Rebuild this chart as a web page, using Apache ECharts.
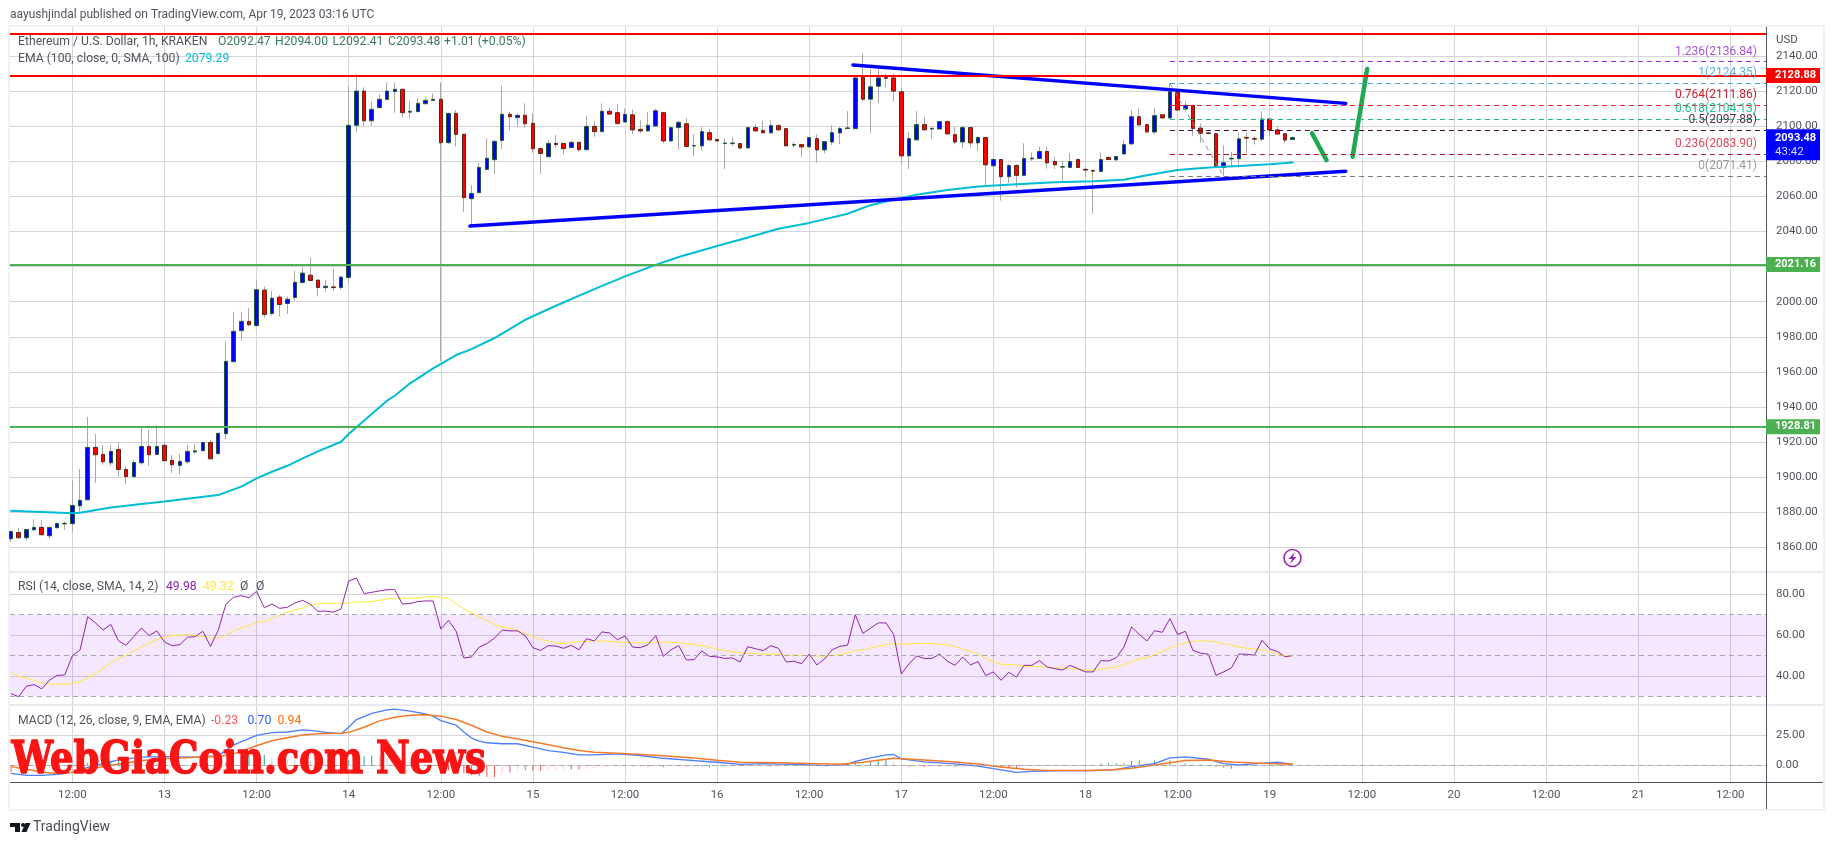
<!DOCTYPE html>
<html>
<head>
<meta charset="utf-8">
<style>
html, body { margin: 0; padding: 0; background: #fff; }
#main { width: 1834px; height: 845px; }
</style>
<script src="https://cdn.jsdelivr.net/npm/echarts@6/dist/echarts.min.js"></script>
</head>
<body>
<div id="main"></div>
<script>
// hour index 0 = Apr 12 04:00
const tickHours = [8,20,32,44,56,68,80,92,104,116,128,140,152,164,176,188,200,212,224]
const tickLabels = ['12:00','13','12:00','14','12:00','15','12:00','16','12:00','17','12:00','18','12:00','19','12:00','20','12:00','21','12:00']

const opens = [1864.9,1868.5,1865.5,1870,1871.4,1866.6,1871.2,1873.4,1873.5,1883.7,
  1887.1,1917,1913,1908.2,1915.8,1904.4,1900.3,1908.2,1917.5,1913,
  1918.1,1909.6,1906.7,1908.8,1914.4,1915.1,1919.8,1913.4,1924.8,1965.8,
  1983.5,1988.8,1986.4,2006.6,1993.3,2002.6,1999,2002.4,2010.9,2015.1,
  2012.3,2008,2008.4,2008.1,2013.8,2100.5,2120,2103.1,2110.6,2115.3,
  2119.7,2121,2108,2108.3,2112.8,2114.7,2115.3,2090.6,2107.3,2095.4,
  2058.7,2062.1,2075.4,2080.9,2091.9,2106.8,2104.9,2106.2,2101.6,2087.2,
  2082.6,2090.2,2090.2,2087.8,2090.8,2086.6,2099.9,2096.9,2108.5,2107.7,
  2102.4,2106.5,2098.2,2097.3,2100.1,2107.7,2091.6,2099.2,2101.4,2088.7,
  2088.8,2096.3,2092.4,2090.1,2090.1,2090.1,2087.6,2099.2,2097.5,2096.2,
  2100.3,2098.6,2089.2,2089.5,2088.2,2092.9,2086.5,2091,2096.2,2098.7,
  2098.6,2128.5,2115.4,2122.8,2127.7,2127.5,2119.6,2083.1,2092.2,2100.9,
  2098.4,2098.4,2102.6,2095.2,2091,2099.2,2090.5,2093.5,2077.4,2081,
  2071.2,2077.6,2072,2081.4,2081.6,2085.6,2079.9,2076.7,2076.5,2081,
  2075.4,2074.8,2074.2,2082.2,2080.8,2084.2,2089.9,2105.4,2100.9,2096.7,
  2106.5,2104.7,2119.4,2109.8,2111.9,2098.9,2096.2,2095.7,2076.4,2081.3,
  2081.5,2093.6,2093,2092.6,2104.1,2097.9,2095.7,2092.47]
const closes = [1869.1,1865.5,1870.2,1871.4,1867.2,1871.4,1873.6,1873.7,1883.9,1886.8,
  1917,1912.8,1908.8,1914.7,1904.4,1900.3,1908.4,1917.5,1912.8,1917.5,
  1909.4,1907.1,1909,1914.7,1915,1919.8,1910.5,1925,1966,1983.1,
  1988.8,1986.9,2006.8,1992.7,2002,1998.4,2001.4,2011.1,2016.3,2012.1,
  2008.1,2008.8,2008,2014,2100.5,2120,2103.1,2109.6,2115.3,2120,
  2121,2107.7,2108.5,2113,2114.7,2115.3,2090.6,2107.3,2095.4,2059.3,
  2061.7,2076.5,2081.7,2091.4,2106.8,2105.4,2106.2,2101.4,2087.2,2084.5,
  2090.2,2089.5,2087.2,2090.8,2086.6,2099.9,2096.9,2108.5,2106.9,2101.6,
  2106.7,2097.9,2097.3,2100.5,2108.8,2091.6,2099.2,2102.2,2088.4,2089,
  2096.9,2092.2,2091.6,2090.4,2090.4,2087.6,2099.2,2097.3,2096.2,2100.3,
  2097.9,2088.8,2089.6,2088.2,2093.5,2086.5,2091.2,2096.3,2098.6,2099,
  2127.5,2115.4,2122.4,2127.5,2127.3,2120,2083.1,2092.9,2100.9,2097.9,
  2098.8,2102.6,2095.6,2091,2099.2,2090.5,2093.5,2078,2081,2071.2,
  2077.6,2072,2081.6,2081.8,2085.6,2079.1,2078,2077,2079.9,2076.5,
  2075,2074.4,2081,2081,2082.7,2089.5,2105.4,2100.7,2096.7,2106,
  2104.7,2119.6,2109.2,2111.9,2098.7,2096,2095.8,2076.4,2079.2,2081.7,
  2092.8,2093.2,2092.6,2104.1,2097.9,2095.5,2092.1,2093.48]
const highs = [1869.5,1871.2,1870.4,1876.1,1875.6,1871.6,1874.2,1874.8,1898,1904.6,
  1934.3,1924.6,1918.3,1918.3,1919.8,1906.5,1909.8,1928,1926.9,1929.7,
  1919.8,1912.6,1913.2,1918.3,1918.9,1920,1921.2,1925.3,1977.2,1994.3,
  1994.3,1996.4,2012,2008.7,2006.2,2003.9,2003,2017.6,2019.7,2025,
  2012.5,2012.5,2018.7,2014.4,2122.9,2129.7,2122.1,2113.8,2118.3,2125.2,
  2124.8,2121.3,2114.4,2115.9,2116.3,2118.7,2124.8,2107.6,2109.2,2095.6,
  2066.3,2079.2,2093.1,2091.6,2122.9,2108.3,2107.3,2113,2107.3,2087.4,
  2092.1,2095,2090.4,2091.4,2091,2105.8,2102.9,2113,2110.5,2112.6,
  2110,2109.6,2103.3,2108.2,2110,2108,2099.5,2103,2104.5,2095.4,
  2099.4,2098.4,2092.6,2093.1,2093.7,2090.4,2099.4,2101.1,2103,2103.3,
  2101.1,2098.8,2090.7,2089.7,2093.7,2095.4,2091.4,2100.5,2099.7,2108.6,
  2127.7,2141.3,2132.3,2132.3,2130,2130,2121.9,2096.7,2108.6,2105.4,
  2099.2,2102.8,2103.3,2099.7,2100.5,2099.4,2094.1,2093.7,2081.6,2081.2,
  2078.4,2078.4,2090.3,2085,2088.4,2088.4,2082.2,2080.3,2084.6,2081.6,
  2076.5,2075.2,2085,2082.4,2083,2092,2109.2,2110.1,2101.1,2110.5,
  2106.7,2124.35,2120.8,2114.5,2112.1,2101.5,2096.4,2095.9,2089,2085.4,
  2096.2,2096.2,2094.3,2108.5,2104.3,2100,2095.9,2094]
const lows = [1863.2,1865.1,1863.8,1870,1867,1864.9,1871,1870,1868.9,1879.9,
  1887,1896.6,1907.1,1906.5,1900.3,1896.1,1900,1907.1,1906.5,1912.5,
  1909,1902.3,1901.8,1907.7,1913.2,1915,1910.3,1913,1921.7,1965.5,
  1977.8,1985.8,1986,1990.8,1992.1,1991.6,1993,2000.7,2010.5,2011.9,
  2003,2005.6,2006.2,2006.8,2010.5,2096.7,2100.1,2100.1,2110,2115,
  2107.7,2104.9,2104.5,2108,2112.5,2114.4,1966,2090,2088.3,2051.3,
  2043.7,2062,2075,2072.9,2087,2097.8,2099.7,2099.2,2084.9,2072.9,
  2082.4,2087.9,2084,2087.6,2085.5,2086.4,2094,2096.7,2106.7,2100.7,
  2102,2095.4,2096,2097,2100,2090.3,2091,2086.5,2088,2083.1,
  2086,2092,2091.4,2075.6,2088.8,2086.9,2087.4,2097,2096,2096,
  2097.7,2088.6,2087.8,2082.5,2088,2079,2084.6,2089.2,2089.7,2098.5,
  2098.4,2114.1,2096,2113,2121.9,2114.1,2077.8,2075.6,2092,2097.7,
  2092.6,2098.2,2095.4,2089.7,2087.5,2087.8,2086,2066.5,2066.1,2057.6,
  2067.6,2065.2,2071.8,2080.3,2081.4,2075.9,2075.6,2068.4,2076.3,2076.3,
  2070.8,2050.2,2074,2080.8,2080.5,2084,2089.7,2100.5,2096.5,2095.4,
  2104.5,2104.3,2109,2109.6,2094.3,2090.6,2095.6,2076.2,2071.41,2076.4,
  2076.4,2084.9,2089.6,2091.5,2094.3,2095.3,2090.2,2092.41]

const emaHours = [0,8,9,13,17,20,24,27,30,32,34,36,38,40,43,44,45,47,49,50,52,55,58,60,63,67,71,76,80,84,87,92,96,100,104,109,112,115,118,122,126,131,136,141,145,148,152,157,160,164,167]
const emaValues = [1880.9,1879.4,1879.7,1882.7,1884.7,1886.2,1888.3,1889.8,1894.6,1899.3,1903.1,1906.5,1910.7,1914.7,1920.2,1924.6,1928.4,1936,1943.6,1946.4,1953.5,1962,1969.6,1973,1979.3,1989.7,1997.7,2007.2,2014.4,2021,2025.5,2031.7,2036.6,2041.6,2044.9,2050.1,2055,2058.2,2061,2063.6,2065.6,2066.9,2068,2068.6,2069.5,2072,2075,2076.8,2077.3,2078.3,2079.29]

const rsi = [31.4,29.9,35,35.8,33.7,37.9,40.3,40.5,49.9,52.7,
  68.9,65.9,62.4,65.2,57.2,55,59.3,63.4,59.7,62,
  56.6,54.8,55.3,58.9,59.2,61.8,54.5,62.3,75,78.4,
  79.2,78.2,81.3,73.3,75.1,73,73.5,75.6,76.9,75,
  71.5,71.7,71.1,72.7,86.3,87.8,80.2,80.8,81.5,82.1,
  82.1,75.1,75.4,76.3,76.6,76.6,62.9,67.2,61.8,48.8,
  49.3,54.1,55.8,58.5,62.4,62,62,59.7,53.8,52.5,
  54.8,54.6,53.5,55,52.8,58.2,57.1,61.5,61,57.7,
  59.5,54.1,53.8,55.3,59.7,49.6,52.8,54.8,47.8,48,
  52.2,49.6,49.3,48.6,48.8,46.8,54.3,53.3,52.4,54.8,
  53.5,46.8,47.2,46,50.7,45.4,48.3,52.8,54.5,55,
  69.9,60.8,63.4,65.9,65.9,60.3,41,45.9,49.8,48.5,
  48.6,50.7,47.2,45.2,49.3,45.4,47,40.2,42,37.9,
  41.8,39.5,45.2,45.2,47.5,44.4,43.6,42.9,45.2,43.6,
  42,42,47.5,47.3,48.9,54.1,63.9,60.3,57.1,62.1,
  61.3,68,60.2,61.8,52.5,51.1,50.6,40.3,42,43.9,
  50.7,50.6,50.1,57.4,53.2,51.9,49.4,49.98]
const rsiMa = [41.8,39.8,39,37.9,36.6,36.1,35.9,36.1,36.3,37.2,
  39.2,41.1,43.7,46.7,48.6,50.2,52.4,54.3,56.1,57.7,
  59,59.7,60,60.2,59.7,59.2,58.4,58.5,59.8,62,
  63.4,64.7,66,66.7,68.1,69.6,71.1,72.2,73.2,74.6,
  75.3,75.6,75.3,75.3,75.6,76.1,76.1,76.4,76.9,77.6,
  78,77.9,78,78,78.5,78.9,78.2,77.9,75.3,72.8,
  70.7,68.9,67,65.2,63.9,63.1,62.1,60.8,59.2,57.7,
  57.1,56.1,55.8,56.4,56.7,56.9,57.1,57.1,56.9,56.6,
  56.4,56.1,56.1,56.3,56.6,56.6,56.3,56.3,55.8,55.3,
  54.8,54,53.2,52.5,51.9,51.2,51.1,50.9,50.6,50.7,
  50.6,50.1,50.1,50.1,49.9,49.8,49.6,50.1,50.4,51.2,
  52.4,52.8,53.7,54.5,55.4,55.9,55.6,55.6,55.8,55.9,
  55.8,55.6,55.1,54.5,53.2,52,50.7,48.5,47,45.7,
  45.7,45.4,44.9,44.7,44.6,44.2,43.9,43.7,43.7,43.3,
  42.9,42.9,43.3,43.9,44.4,45.4,47,48.3,48.9,50.4,
  52,53.7,55.1,56.1,56.9,57.1,57.1,56.6,55.8,55,
  54.1,53.5,53.2,52.7,51.7,50.7,49.9,49.32]

const macdHours = [0,2,4,6,8,10,14,17,20,24,27,29,32,34,36,38,39,41,43,44,45,47,49,50,52,54,55,56,58,59,60,61,62,64,66,68,70,72,74,76,79,82,85,89,92,95,98,103,106,109,110,112,114,115,116,119,123,126,128,131,133,137,141,144,146,149,151,153,156,158,160,162,165,167]
const macdValues = [-6.7,-8.3,-8.3,-7.5,-5.8,-1.7,4.4,6.7,7.2,6.7,7.8,16.9,24.7,26.9,27.5,29.2,28.9,27.2,26.1,31.4,37.8,42.8,45.8,46.4,44.7,42.5,40.6,36.9,33.1,27.5,22.5,20,18.6,17.8,17.8,15,12.2,10.6,8.6,8.6,9.4,8.1,5.8,3.9,2.5,0.8,1.4,0.6,-0.3,0.8,3.3,6.1,8.6,8.9,5.3,2.8,1.1,-0.6,-2.8,-5.8,-5,-4.4,-4.4,-3.6,-1.1,1.4,6.1,6.9,5,1.4,0.3,1.1,2.5,0.7]
const signalHours = [0,2,4,6,8,10,13,17,20,24,27,29,32,34,36,38,40,43,44,46,48,50,52,54,56,58,60,62,64,66,68,70,72,74,76,79,82,85,89,92,95,100,104,108,111,113,115,119,123,126,129,132,135,140,143,146,149,153,156,159,163,167]
const signalValues = [-1.1,-3.3,-5.6,-6.7,-5.8,-3.3,0,3.9,5.3,6.7,7.2,9.4,16.1,20.3,22.8,25,26.1,26.4,27.2,31.4,36.7,39.7,41.4,41.7,40.6,37.8,33.1,27.5,23.9,21.7,19.4,16.9,14.4,12.2,10.8,10,8.9,7.8,6.1,4.2,2.5,2.2,1.4,0.8,2.5,4.2,5.8,4.4,2.8,1.1,-1.4,-3.3,-4.2,-4.4,-3.9,-2.5,0.3,3.9,4.4,2.8,1.7,0.94]
const histValues = [-5.5,-5,-4.7,-4,-3,-2.4,-1.6,-1,0.1,0.8,
  2,2.8,3.2,3.6,3.6,3.2,3,2.8,2.4,2,
  1.8,1.5,1.2,0.8,0.4,0.2,0.1,0.6,2,5,
  7,8,8.6,8.6,6.7,6.2,4.8,4.4,4.3,3,
  1.8,1,0.8,0.1,4,6.5,7.5,8,7.5,6.3,
  6.5,5,3.4,2.5,1,-0.5,-3,-4,-5,-6.5,
  -8,-9,-9.5,-9.8,-6,-6,-4,-4,-4.5,-4.5,
  -4,-3.8,-3.5,-3.5,-3.5,-3,-2.5,-1.9,-1.3,-0.8,
  -0.5,-0.8,-0.8,-1.2,-0.8,-1.6,-0.5,-0.8,-0.9,-1.1,
  -1.1,-1.6,-1.2,-0.9,-0.7,-0.7,-0.5,-0.3,-0.2,-1.3,
  -0.6,-0.4,-0.2,-0.1,-0.3,-0.3,-0.2,-0.1,-0.1,1,
  3.3,2.5,3.5,4,5,3,-0.4,-1.4,-0.5,-1.6,
  -0.8,-1.5,-0.9,-1.5,-1.3,-1,-1.2,-0.9,-1.4,-2,
  -2.2,-2.6,-0.8,-0.7,-0.5,-0.5,-0.3,-0.3,-0.2,-0.2,
  -0.1,-0.1,1.4,1.4,1.6,1.6,3.5,4,2.5,4,
  3.5,4,1.5,1.5,1.4,1.2,0.5,-1.4,-2,-2.8,
  -0.8,-0.6,-0.3,0.3,1.1,1.6,-0.4,-0.23]

const priceTicks = [2140,2120,2100,2080,2060,2040,2020,2000,1980,1960,1940,1920,1900,1880,1860]
const priceLabels = [2140,2120,2100,2080,2060,2040,2000,1980,1960,1940,1920,1900,1880,1860]
const rsiTicks = [80,60,40]
const macdTicks = [25,0]

const redLevels = [2152.7, 2128.88]
const greenLevels = [2021.16, 1928.81]
const lastPrice = 2093.48

const fibRatios = ['1.236','1','0.764','0.618','0.5','0.236','0']
const fibPrices = [2136.84,2124.35,2111.86,2104.13,2097.88,2083.90,2071.41]
const fibLineColors = ['#9c27e0','#42a5e6','#f01c28','#1fb886','#4a1038','#b71c2c','#787878']
const fibTextColors = ['#a855d8','#5cafe4','#c8202e','#1fc08c','#55304e','#e04a5c','#9a9a9a']
const fibStartHour = 151
const fibDiagHours = [151,158]
const fibDiagPrices = [2124.35,2071.41]

const upperTrendHours = [109.7,173.9]
const upperTrendPrices = [2134.9,2113]
const lowerTrendHours = [59.8,173.9]
const lowerTrendPrices = [2043.1,2074.3]
const arrowDownHours = [169.5,171.4]
const arrowDownPrices = [2096,2080.7]
const arrowUpHours = [174.8,176.7]
const arrowUpPrices = [2082.6,2132.6]

const xMin = -0.13, xMax = 228.66
const gridColor = '#d3d5da'
const fontFamily = 'Roboto, "Liberation Sans", sans-serif'
const axisText = { color: '#50535e', fontSize: 11.5, fontFamily: fontFamily }

const zip = (xs, ys) => xs.map((x, i) => [x, ys[i]])

function xAxisFor(gridIndex, showLabels) {
    return {
        type: 'value',
        gridIndex: gridIndex,
        min: xMin,
        max: xMax,
        axisLine: { show: false },
        axisTick: { show: false, customValues: tickHours },
        axisLabel: {
            show: showLabels,
            customValues: tickHours,
            margin: 7,
            formatter: (v) => tickLabels[tickHours.indexOf(v)] || '',
            color: '#50535e',
            fontSize: 11.5,
            fontFamily: fontFamily
        },
        splitLine: { show: true, lineStyle: { color: gridColor, width: 1 } }
    }
}

function yAxisFor(gridIndex, min, max, ticks, labels) {
    return {
        type: 'value',
        gridIndex: gridIndex,
        position: 'right',
        min: min,
        max: max,
        axisLine: { show: false },
        axisTick: { show: false, customValues: ticks },
        axisLabel: Object.assign({
            customValues: labels,
            margin: 10,
            formatter: (v) => v.toFixed(2)
        }, axisText),
        splitLine: { show: true, lineStyle: { color: gridColor, width: 1 } }
    }
}

const hline = (p, color, text) => [
    { coord: [xMin, p], lineStyle: { color: color, width: 2, type: 'solid' },
      label: text ? { show: true, position: 'end', distance: 0, formatter: text, backgroundColor: color,
        color: '#fff', fontWeight: 'bold', fontSize: 11, fontFamily: fontFamily, padding: [2, 2, 2, 9], width: 43 } : { show: false } },
    { coord: [xMax, p] }
]

const fibLines = fibPrices.map((p, i) => [
    { coord: [fibStartHour, p], lineStyle: { color: fibLineColors[i], width: 1, type: [5, 4] },
      label: { show: true, position: 'insideEndTop', distance: [9, 4], formatter: fibRatios[i] + '(' + p.toFixed(2) + ')',
        color: fibTextColors[i], fontSize: 12, fontFamily: fontFamily } },
    { coord: [xMax, p] }
])

const candles = opens.map((o, i) => [i, o, closes[i], lows[i], highs[i]])
const bodies = opens.map((o, i) => [i, o, closes[i], Math.min(o, closes[i]), Math.max(o, closes[i])])

const drawLine = (name, xs, ys, color, width, extra) => Object.assign({
    name: name, type: 'line', xAxisIndex: 0, yAxisIndex: 0, data: zip(xs, ys),
    symbol: 'none', silent: true, animation: false,
    lineStyle: { color: color, width: width, cap: 'round' }, z: 5
}, extra || {})

const legendText = (x, y, text, color) => ({
    type: 'text', silent: true, z: 20, x: x, y: y,
    style: { text: text, fill: color, font: '12.2px ' + fontFamily, verticalAlign: 'middle' }
})

const option = {
    animation: false,
    backgroundColor: '#ffffff',
    grid: [
        { left: 10, width: 1756, top: 27, height: 545 },
        { left: 10, width: 1756, top: 572, height: 133 },
        { left: 10, width: 1756, top: 705, height: 77 }
    ],
    xAxis: [xAxisFor(0, false), xAxisFor(1, false), xAxisFor(2, true)],
    yAxis: [
        yAxisFor(0, 1845.98, 2156.52, priceTicks, priceLabels),
        yAxisFor(1, 25.85, 90.73, rsiTicks, rsiTicks),
        yAxisFor(2, -13.8, 49.8, macdTicks, macdTicks)
    ],
    series: [
        {
            name: 'wicks', type: 'candlestick', xAxisIndex: 0, yAxisIndex: 0, data: candles, barWidth: 1,
            itemStyle: { color: '#a9a9a9', color0: '#a9a9a9', borderColor: '#a9a9a9', borderColor0: '#a9a9a9', borderWidth: 1 }, z: 2
        },
        {
            name: 'bodies', type: 'candlestick', xAxisIndex: 0, yAxisIndex: 0, data: bodies, barWidth: 4,
            itemStyle: { color: '#0000ff', color0: '#ff0000', borderColor: '#1f5a2e', borderColor0: '#5a2412', borderWidth: 1 }, z: 3
        },
        drawLine('EMA', emaHours, emaValues, '#00bcd4', 2, { z: 4 }),
        drawLine('upper trend', upperTrendHours, upperTrendPrices, '#0000ff', 3.5),
        drawLine('lower trend', lowerTrendHours, lowerTrendPrices, '#0000ff', 3.5),
        drawLine('arrow down', arrowDownHours, arrowDownPrices, '#1fa84f', 4.5),
        drawLine('arrow up', arrowUpHours, arrowUpPrices, '#1fa84f', 4.5),
        drawLine('fib diagonal', fibDiagHours, fibDiagPrices, '#8f8f8f', 1, {
            lineStyle: { color: '#8f8f8f', width: 1, type: [5, 4] }
        }),
        {
            name: 'levels', type: 'line', xAxisIndex: 0, yAxisIndex: 0, data: [], z: 6,
            markLine: {
                silent: true, symbol: 'none', animation: false, z: 6,
                data: [
                    hline(redLevels[0], '#ff0000'),
                    hline(redLevels[1], '#ff0000', redLevels[1].toFixed(2)),
                    hline(greenLevels[0], '#4caf50', greenLevels[0].toFixed(2)),
                    hline(greenLevels[1], '#4caf50', greenLevels[1].toFixed(2))
                ].concat(fibLines).concat([[
                    { coord: [xMin, lastPrice], lineStyle: { color: 'transparent', width: 1 },
                      label: { show: true, position: 'end', distance: 0, offset: [0, 7],
                        formatter: '{a|' + lastPrice.toFixed(2) + '}\n{b|43:42}', backgroundColor: '#0000ff', padding: [2, 2, 1, 9], width: 43,
                        rich: {
                            a: { color: '#fff', fontWeight: 'bold', fontSize: 11, lineHeight: 14, fontFamily: fontFamily },
                            b: { color: '#d8dcff', fontSize: 11.5, lineHeight: 14, fontFamily: fontFamily }
                        } } },
                    { coord: [xMax, lastPrice] }
                ]])
            }
        },
        {
            name: 'RSI', type: 'line', xAxisIndex: 1, yAxisIndex: 1, data: rsi.map((v, i) => [i, v]), symbol: 'none',
            lineStyle: { color: '#8e24aa', width: 1 }, z: 4,
            markArea: {
                silent: true, animation: false,
                itemStyle: { color: 'rgba(155,39,255,0.11)' },
                data: [[{ coord: [xMin, 70] }, { coord: [xMax, 30] }]]
            },
            markLine: {
                silent: true, symbol: 'none', animation: false, label: { show: false },
                lineStyle: { color: '#a8a8ae', width: 1, type: [5, 4] },
                data: [70, 50, 30].map((v) => [{ coord: [xMin, v] }, { coord: [xMax, v] }])
            }
        },
        {
            name: 'RSI MA', type: 'line', xAxisIndex: 1, yAxisIndex: 1, data: rsiMa.map((v, i) => [i, v]), symbol: 'none',
            lineStyle: { color: '#ffe93b', width: 1 }, z: 3
        },
        {
            name: 'hist', type: 'bar', xAxisIndex: 2, yAxisIndex: 2, barWidth: 1,
            data: histValues.map((v, i) => {
                const prev = i > 0 ? histValues[i - 1] : v
                const color = v >= 0 ? (v >= prev ? '#26a69a' : '#b2dfdb') : (v <= prev ? '#ff5252' : '#ffcdd2')
                return { value: [i, v], itemStyle: { color: color } }
            }),
            markLine: {
                silent: true, symbol: 'none', animation: false, label: { show: false },
                lineStyle: { color: '#a8a8ae', width: 1, type: [5, 4] },
                data: [[{ coord: [xMin, 0] }, { coord: [xMax, 0] }]]
            }
        },
        {
            name: 'MACD', type: 'line', xAxisIndex: 2, yAxisIndex: 2, data: zip(macdHours, macdValues), symbol: 'none',
            lineStyle: { color: '#4a7dff', width: 1.3 }, z: 3
        },
        {
            name: 'Signal', type: 'line', xAxisIndex: 2, yAxisIndex: 2, data: zip(signalHours, signalValues), symbol: 'none',
            lineStyle: { color: '#f57a28', width: 1.5 }, z: 4
        }
    ],
    graphic: [
        // panel frame and pane separators
        { type: 'rect', silent: true, z: 0, shape: { x: 9, y: 26, width: 1815, height: 784 }, style: { fill: 'none', stroke: '#eff1f5', lineWidth: 2 } },
        { type: 'line', silent: true, z: 1, shape: { x1: 10, y1: 572, x2: 1823, y2: 572 }, style: { stroke: '#e0e3eb', lineWidth: 1.5 } },
        { type: 'line', silent: true, z: 1, shape: { x1: 10, y1: 705, x2: 1823, y2: 705 }, style: { stroke: '#e0e3eb', lineWidth: 1.5 } },
        { type: 'line', silent: true, z: 1, shape: { x1: 10, y1: 782.5, x2: 1823, y2: 782.5 }, style: { stroke: '#50535e', lineWidth: 1 } },
        { type: 'line', silent: true, z: 1, shape: { x1: 1766.5, y1: 27, x2: 1766.5, y2: 809 }, style: { stroke: '#50535e', lineWidth: 1 } },
        // texts
        { type: 'text', silent: true, z: 20, x: 10, y: 15, style: { text: 'aayushjindal published on TradingView.com, Apr 19, 2023 03:16 UTC', fill: '#50535e', font: '12px ' + fontFamily, verticalAlign: 'middle' } },
        { type: 'text', silent: true, z: 20, x: 1776, y: 40, style: { text: 'USD', fill: '#50535e', font: '11.5px ' + fontFamily, verticalAlign: 'middle' } },
        legendText(18, 42, 'Ethereum / U.S. Dollar, 1h, KRAKEN', '#50535e'),
        legendText(218, 42, 'O2092.47', '#3c7a5c'),
        legendText(275, 42, 'H2094.00', '#3c7a5c'),
        legendText(332.5, 42, 'L2092.41', '#3c7a5c'),
        legendText(388, 42, 'C2093.48', '#3c7a5c'),
        legendText(444, 42, '+1.01 (+0.05%)', '#3c7a5c'),
        legendText(18, 59, 'EMA (100, close, 0, SMA, 100)', '#50535e'),
        legendText(185, 59, '2079.29', '#00bcd4'),
        legendText(18, 587, 'RSI (14, close, SMA, 14, 2)', '#50535e'),
        legendText(166, 587, '49.98', '#8e24aa'),
        legendText(203, 587, '49.32', '#ffe93b'),
        legendText(240, 587, 'Ø', '#50535e'),
        legendText(256, 587, 'Ø', '#50535e'),
        legendText(18, 721, 'MACD (12, 26, close, 9, EMA, EMA)', '#50535e'),
        legendText(211, 721, '-0.23', '#ff5252'),
        legendText(247.5, 721, '0.70', '#2962ff'),
        legendText(277.5, 721, '0.94', '#ff6d00'),
        { type: 'text', silent: true, z: 30, x: 10, y: 762, scaleX: 0.84, originX: 10, style: {
            text: 'WebGiaCoin.com News', fill: '#fa1414', stroke: '#fa1414', lineWidth: 1.5, font: 'bold 44px "DejaVu Serif", serif', verticalAlign: 'middle' } },
        // lightning icon
        { type: 'circle', silent: true, z: 20, shape: { cx: 1292.5, cy: 558, r: 8.5 }, style: { fill: '#fff', stroke: '#9c27b0', lineWidth: 1.6 } },
        { type: 'polygon', silent: true, z: 21, shape: { points: [[1295,552],[1288.5,559],[1292,559],[1290,564],[1296.5,557],[1293,557]] }, style: { fill: '#9c27b0' } },
        // TradingView footer
        { type: 'polygon', silent: true, z: 20, shape: { points: [[10,823],[20,823],[20,832],[15,832],[15,827],[10,827]] }, style: { fill: '#131722' } },
        { type: 'circle', silent: true, z: 20, shape: { cx: 23, cy: 825, r: 2 }, style: { fill: '#131722' } },
        { type: 'polygon', silent: true, z: 20, shape: { points: [[25.5,823],[30.5,823],[26.5,832],[21.5,832]] }, style: { fill: '#131722' } },
        { type: 'text', silent: true, z: 20, x: 33, y: 827, style: { text: 'TradingView', fill: '#4a4e5a', font: '14px ' + fontFamily, verticalAlign: 'middle' } }
    ]
}

const myChart = echarts.init(document.getElementById('main'))
myChart.setOption(option)
</script>
</body>
</html>
